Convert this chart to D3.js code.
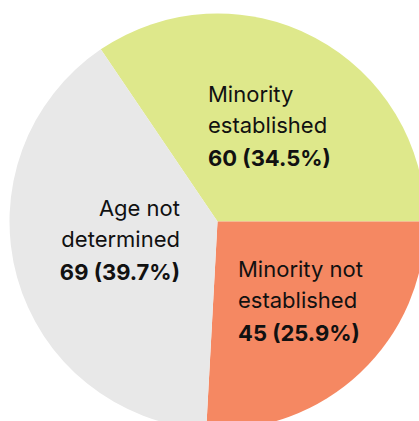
<!DOCTYPE html>
<html>
<head>
<meta charset="utf-8">
<script src="https://cdn.jsdelivr.net/npm/d3@7"></script>
<style>
  html, body { margin: 0; padding: 0; background: #ffffff; }
  svg { display: block; }
  text { font-family: Inter, "Open Sans", "Liberation Sans", sans-serif; fill: #111111; }
</style>
</head>
<body>
<svg id="chart" width="419" height="421"></svg>
<script>
// Age assessment outcomes
const categories = ["Minority established", "Minority not established", "Age not determined"];
const counts = [60, 45, 69];
const sliceColors = ["#dee88b", "#f58862", "#e8e8e8"];

// Label text lines per category (bold figure line is added below)
const labelLines = [
  ["Minority", "established"],
  ["Minority not", "established"],
  ["Age not", "determined"]
];

const width = 419, height = 421;
const cx = 217.5, cy = 221.5, radius = 208;

const total = d3.sum(counts);
const pct = d3.format(".1f");

// "Minority not established" begins at 3 o'clock; slices run clockwise
const start = Math.PI / 2 - 2 * Math.PI * counts[0] / total;
const pie = d3.pie().sort(null).value(d => d.value)
  .startAngle(start).endAngle(start + 2 * Math.PI);
const arc = d3.arc().innerRadius(0).outerRadius(radius);

const data = categories.map((c, i) => ({ name: c, value: counts[i], color: sliceColors[i], lines: labelLines[i] }));
const arcs = pie(data);

const svg = d3.select("#chart");
const g = svg.append("g").attr("transform", `translate(${cx},${cy})`);

g.selectAll("path.slice")
  .data(arcs)
  .join("path")
  .attr("class", "slice")
  .attr("d", arc)
  .attr("fill", d => d.data.color);

// Label placement relative to the pie centre: anchor x, first baseline y, alignment
const labelLayout = {
  "Minority established": { x: -9.5, y: -120, anchor: "start" },
  "Minority not established": { x: 20.5, y: 55, anchor: "start" },
  "Age not determined": { x: -37.5, y: -6, anchor: "end" }
};
const lineStep = [0, 31.5, 64];

const labels = g.selectAll("text.label")
  .data(arcs)
  .join("text")
  .attr("class", "label")
  .attr("text-anchor", d => labelLayout[d.data.name].anchor)
  .attr("font-size", 22);

labels.each(function(d) {
  const L = labelLayout[d.data.name];
  const t = d3.select(this);
  d.data.lines.forEach((ln, k) => {
    t.append("tspan").attr("x", L.x).attr("y", L.y + lineStep[k]).attr("font-weight", 400).text(ln);
  });
  t.append("tspan").attr("x", L.x).attr("y", L.y + lineStep[2]).attr("font-weight", 700)
    .text(`${d.data.value} (${pct(d.data.value / total * 100)}%)`);
});
</script>
</body>
</html>
